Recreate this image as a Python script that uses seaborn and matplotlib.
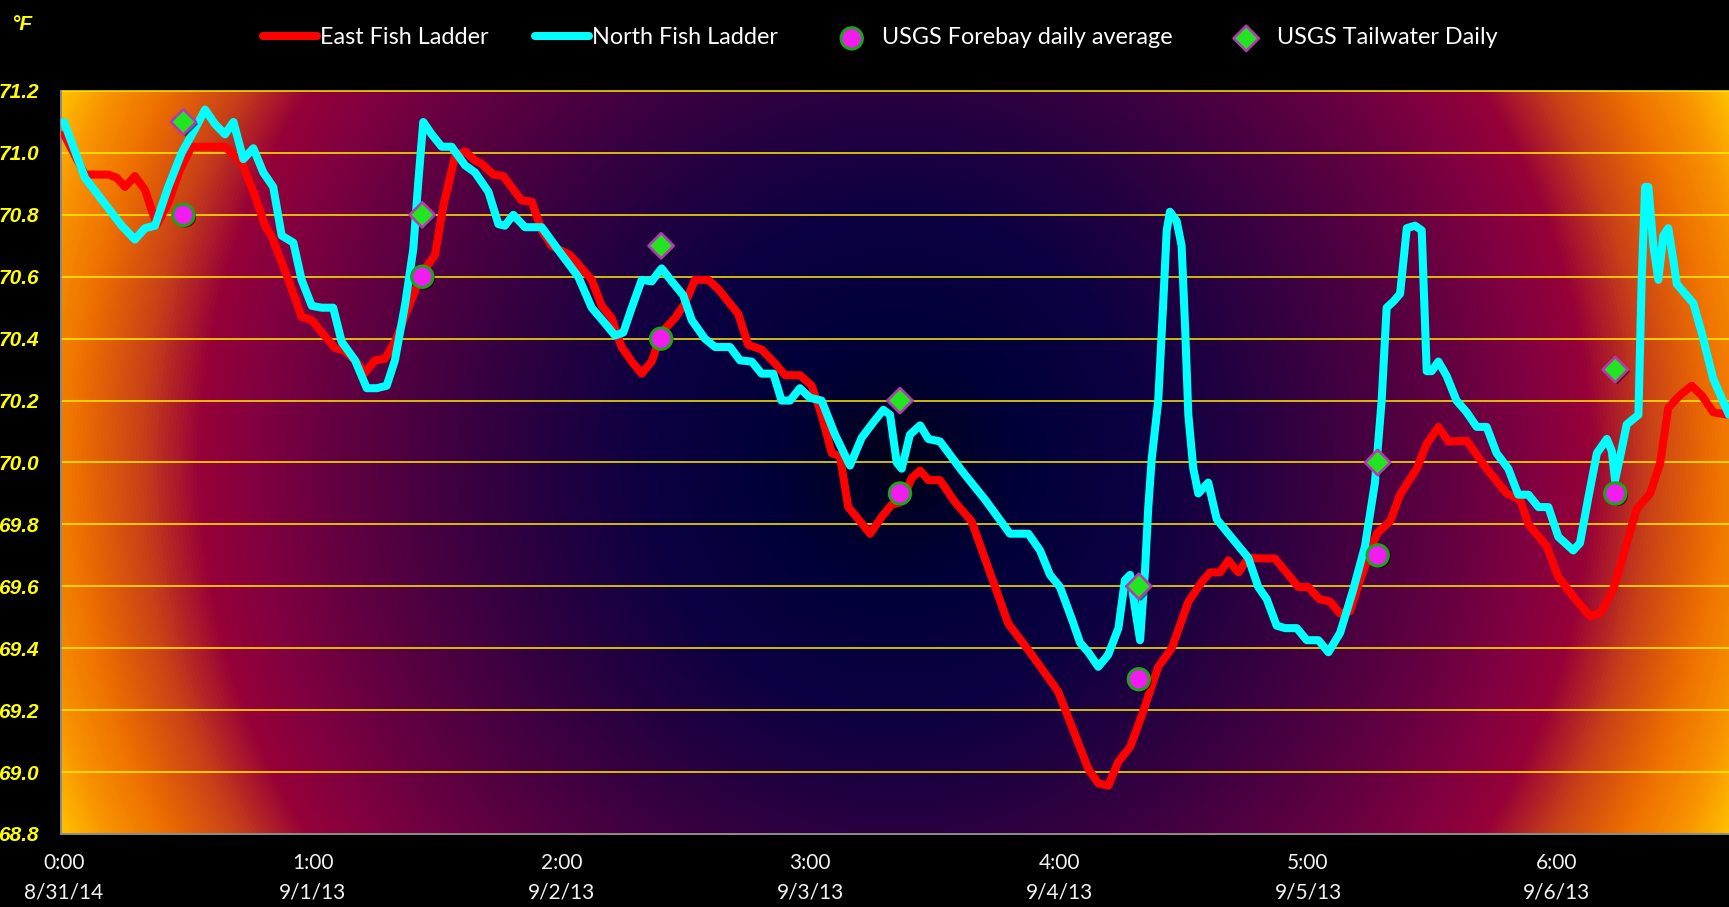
import numpy as np
import pandas as pd
import matplotlib
matplotlib.use("Agg")
import matplotlib.pyplot as plt
import seaborn as sns
from matplotlib.colors import LinearSegmentedColormap
from matplotlib import patheffects as pe

# ---------------- data (days since 8/31 0:00, temperature in °F) ----------------
east_day = [0.000, 0.084, 0.178, 0.212, 0.245, 0.285, 0.326, 0.359, 0.375, 0.420, 0.466, 0.513, 0.647, 0.714,
            0.768, 0.808, 0.835, 0.902, 0.955, 0.996, 1.036, 1.089, 1.129, 1.170, 1.210, 1.250, 1.290, 1.330,
            1.384, 1.438, 1.491, 1.525, 1.572, 1.612, 1.652, 1.679, 1.726, 1.766, 1.840, 1.880, 1.920, 1.960,
            2.034, 2.121, 2.161, 2.201, 2.241, 2.282, 2.322, 2.362, 2.402, 2.456, 2.496, 2.536, 2.590, 2.630,
            2.710, 2.750, 2.804, 2.858, 2.898, 2.958, 3.005, 3.045, 3.086, 3.119, 3.152, 3.193, 3.240, 3.287,
            3.327, 3.367, 3.407, 3.441, 3.474, 3.521, 3.581, 3.648, 3.715, 3.795, 3.876, 3.996, 4.064, 4.117,
            4.157, 4.197, 4.238, 4.285, 4.332, 4.398, 4.452, 4.519, 4.573, 4.606, 4.646, 4.680, 4.720, 4.760,
            4.814, 4.867, 4.921, 4.961, 5.001, 5.045, 5.088, 5.129, 5.169, 5.209, 5.276, 5.330, 5.370, 5.437,
            5.477, 5.524, 5.564, 5.638, 5.718, 5.798, 5.852, 5.886, 5.959, 6.006, 6.066, 6.133, 6.174, 6.227,
            6.267, 6.321, 6.375, 6.415, 6.448, 6.495, 6.542, 6.582, 6.629, 6.692]
east_temp = [71.06, 70.93, 70.93, 70.92, 70.89, 70.925, 70.88, 70.80, 70.77, 70.84, 70.945, 71.02, 71.02, 70.97,
             70.86, 70.765, 70.73, 70.59, 70.47, 70.46, 70.42, 70.37, 70.36, 70.33, 70.29, 70.33, 70.335, 70.39,
             70.50, 70.61, 70.67, 70.83, 70.99, 71.005, 70.975, 70.965, 70.93, 70.925, 70.846, 70.843, 70.75, 70.70,
             70.67, 70.59, 70.506, 70.467, 70.373, 70.326, 70.287, 70.326, 70.42, 70.467, 70.514, 70.59, 70.59, 70.56,
             70.48, 70.38, 70.365, 70.32, 70.282, 70.282, 70.248, 70.154, 70.03, 70.02, 69.856, 69.817, 69.77, 69.825,
             69.864, 69.872, 69.95, 69.974, 69.943, 69.943, 69.872, 69.81, 69.66, 69.48, 69.394, 69.26, 69.12, 69.01,
             68.964, 68.956, 69.034, 69.081, 69.183, 69.34, 69.40, 69.55, 69.614, 69.645, 69.645, 69.684, 69.645, 69.692,
             69.69, 69.69, 69.637, 69.598, 69.598, 69.559, 69.551, 69.512, 69.52, 69.62, 69.77, 69.81, 69.896, 69.98,
             70.06, 70.115, 70.068, 70.07, 69.98, 69.90, 69.88, 69.80, 69.73, 69.63, 69.567, 69.504, 69.512, 69.59,
             69.70, 69.85, 69.90, 69.997, 70.177, 70.217, 70.248, 70.217, 70.162, 70.154]

north_day = [0.000, 0.084, 0.165, 0.232, 0.285, 0.326, 0.366, 0.419, 0.473, 0.527, 0.567, 0.607, 0.647, 0.681,
             0.721, 0.761, 0.801, 0.841, 0.875, 0.922, 0.955, 0.996, 1.036, 1.082, 1.116, 1.170, 1.217, 1.257,
             1.297, 1.330, 1.371, 1.404, 1.424, 1.444, 1.478, 1.518, 1.558, 1.612, 1.652, 1.706, 1.746, 1.772,
             1.806, 1.853, 1.920, 1.987, 2.067, 2.121, 2.174, 2.215, 2.248, 2.282, 2.322, 2.362, 2.402, 2.443,
             2.489, 2.523, 2.576, 2.617, 2.677, 2.717, 2.764, 2.804, 2.851, 2.884, 2.918, 2.958, 2.998, 3.045,
             3.099, 3.159, 3.206, 3.253, 3.293, 3.320, 3.347, 3.367, 3.400, 3.441, 3.474, 3.521, 3.608, 3.702,
             3.802, 3.876, 3.923, 3.963, 4.003, 4.050, 4.084, 4.117, 4.157, 4.197, 4.238, 4.264, 4.285, 4.305,
             4.325, 4.345, 4.358, 4.372, 4.398, 4.418, 4.432, 4.445, 4.472, 4.492, 4.506, 4.519, 4.539, 4.559,
             4.599, 4.633, 4.680, 4.760, 4.800, 4.834, 4.874, 4.908, 4.955, 4.995, 5.042, 5.082, 5.129, 5.182,
             5.229, 5.269, 5.296, 5.316, 5.343, 5.370, 5.397, 5.430, 5.457, 5.477, 5.497, 5.524, 5.557, 5.597,
             5.638, 5.678, 5.718, 5.758, 5.805, 5.845, 5.886, 5.926, 5.966, 6.006, 6.066, 6.093, 6.127, 6.161,
             6.201, 6.221, 6.234, 6.261, 6.281, 6.328, 6.341, 6.355, 6.368, 6.388, 6.408, 6.428, 6.448, 6.468,
             6.482, 6.549, 6.582, 6.629, 6.692]
north_temp = [71.10, 70.92, 70.835, 70.765, 70.72, 70.757, 70.765, 70.89, 71.00, 71.078, 71.14, 71.093, 71.06, 71.10,
              70.98, 71.015, 70.937, 70.89, 70.733, 70.71, 70.59, 70.506, 70.50, 70.50, 70.39, 70.33, 70.24, 70.24,
              70.248, 70.33, 70.51, 70.69, 70.906, 71.10, 71.06, 71.02, 71.02, 70.96, 70.937, 70.874, 70.77, 70.765,
              70.80, 70.76, 70.76, 70.686, 70.60, 70.50, 70.45, 70.41, 70.42, 70.50, 70.59, 70.585, 70.627, 70.585,
              70.54, 70.46, 70.40, 70.373, 70.373, 70.33, 70.326, 70.287, 70.287, 70.20, 70.20, 70.24, 70.209, 70.20,
              70.09, 69.99, 70.08, 70.13, 70.17, 70.154, 70.00, 69.98, 70.09, 70.12, 70.076, 70.068, 69.974, 69.88,
              69.77, 69.77, 69.716, 69.637, 69.598, 69.496, 69.418, 69.387, 69.34, 69.379, 69.465, 69.62, 69.637, 69.528,
              69.426, 69.653, 69.856, 70.013, 70.20, 70.514, 70.749, 70.81, 70.78, 70.70, 70.436, 70.154, 69.98, 69.90,
              69.935, 69.817, 69.77, 69.692, 69.598, 69.559, 69.473, 69.465, 69.465, 69.426, 69.426, 69.387, 69.45, 69.59,
              69.73, 69.935, 70.20, 70.50, 70.52, 70.545, 70.757, 70.765, 70.75, 70.295, 70.295, 70.326, 70.28, 70.20,
              70.162, 70.115, 70.115, 70.03, 69.98, 69.896, 69.896, 69.856, 69.856, 69.76, 69.716, 69.74, 69.888, 70.03,
              70.076, 70.037, 69.943, 70.044, 70.123, 70.154, 70.59, 70.89, 70.89, 70.70, 70.59, 70.733, 70.757, 70.655,
              70.577, 70.514, 70.42, 70.27, 70.154]

daily_day = [0.48, 1.44, 2.40, 3.36, 4.32, 5.28, 6.235]
forebay_temp = [70.8, 70.6, 70.4, 69.9, 69.3, 69.7, 69.9]
tailwater_temp = [71.1, 70.8, 70.7, 70.2, 69.6, 70.0, 70.3]

x_ticks = [0, 1, 2, 3, 4, 5, 6]
x_tick_labels = ["0:00\n8/31/14", "1:00\n9/1/13", "2:00\n9/2/13", "3:00\n9/3/13",
                 "4:00\n9/4/13", "5:00\n9/5/13", "6:00\n9/6/13"]
y_ticks = [68.8, 69.0, 69.2, 69.4, 69.6, 69.8, 70.0, 70.2, 70.4, 70.6, 70.8, 71.0, 71.2]
y_tick_labels = ["68.8", "69.0", "69.2", "69.4", "69.6", "69.8", "70.0", "70.2", "70.4", "70.6", "70.8", "71.0", "71.2"]

series_names = ["East Fish Ladder", "North Fish Ladder", "USGS Forebay daily average", "USGS Tailwater Daily"]

# ---------------- style ----------------
sns.set_theme(style="dark", rc={
    "figure.facecolor": "black",
    "axes.facecolor": "black",
    "savefig.facecolor": "black",
})
plt.rcParams["font.family"] = ["Lato", "DejaVu Sans"]

W, H = 1729, 907
fig = plt.figure(figsize=(W / 100, H / 100), dpi=100)
ax_l, ax_r, ax_t, ax_b = 61, 1729, 91, 834
ax = fig.add_axes([ax_l / W, 1 - ax_b / H, (ax_r - ax_l) / W, (ax_b - ax_t) / H])

xmin, xmax = -0.012, 6.692
ymin, ymax = 68.8, 71.2

# radial background gradient
pw, ph = ax_r - ax_l, ax_b - ax_t
yy, xx = np.mgrid[0:ph, 0:pw]
dist = np.hypot(xx - pw / 2, yy - ph / 2)
dmax = np.hypot(pw / 2, ph / 2)
stops = [(0, "#00001a"), (120, "#000038"), (250, "#0c0042"), (365, "#280040"), (475, "#480040"),
         (575, "#680040"), (645, "#840040"), (695, "#960038"), (755, "#c84018"), (820, "#ee7000"),
         (870, "#f89200"), (dmax, "#ffc000")]
cmap = LinearSegmentedColormap.from_list("bg", [(s / dmax, c) for s, c in stops])
ax.imshow(dist / dmax, cmap=cmap, vmin=0, vmax=1, extent=(xmin, xmax, ymin, ymax),
          aspect="auto", origin="upper", zorder=0, interpolation="bilinear")

# lines
df_e = pd.DataFrame({"day": east_day, "temp": east_temp})
df_n = pd.DataFrame({"day": north_day, "temp": north_temp})
sns.lineplot(data=df_e, x="day", y="temp", ax=ax, color="#FF0000", lw=5.8, sort=False,
             estimator=None, label=series_names[0], solid_capstyle="round", solid_joinstyle="round", zorder=3)
sns.lineplot(data=df_n, x="day", y="temp", ax=ax, color="#00FFFF", lw=5.8, sort=False,
             estimator=None, label=series_names[1], solid_capstyle="round", solid_joinstyle="round", zorder=4)

shadow = [pe.SimplePatchShadow(offset=(1.5, -1.5), alpha=0.55, shadow_rgbFace="black"), pe.Normal()]
sns.scatterplot(x=daily_day, y=forebay_temp, ax=ax, marker="o", s=235, color="#F21CF0",
                edgecolor="#1FA21F", linewidth=2.2, label=series_names[2], zorder=6,
                path_effects=shadow)
sns.scatterplot(x=daily_day, y=tailwater_temp, ax=ax, marker="D", s=165, color="#22E522",
                edgecolor="#B03CB0", linewidth=1.9, label=series_names[3], zorder=6,
                path_effects=shadow)

ax.set_xlim(xmin, xmax)
ax.set_ylim(ymin, ymax)
ax.set_xlabel("")
ax.set_ylabel("")

ax.set_yticks(y_ticks)
ax.set_yticklabels(y_tick_labels, color="#FFFF00", fontweight="bold", fontstyle="italic", fontsize=15,
                   family=["Liberation Sans", "DejaVu Sans"])
ax.set_xticks(x_ticks)
ax.set_xticklabels(x_tick_labels, color="#F2F2F2", fontsize=15, linespacing=1.55)
ax.tick_params(axis="y", length=0, pad=16)
ax.tick_params(axis="x", length=0, pad=14)

ax.grid(False)
for yv in y_ticks:
    ax.axhline(yv, color="#FFEE00", lw=1.1, zorder=1, clip_on=False)

for side in ["top", "right"]:
    ax.spines[side].set_visible(False)
for side in ["left", "bottom"]:
    ax.spines[side].set_visible(True)
    ax.spines[side].set_color("#8a8a8a")
    ax.spines[side].set_linewidth(1.4)
    ax.spines[side].set_zorder(2)

handles, labels = ax.get_legend_handles_labels()
if ax.get_legend() is not None:
    ax.get_legend().remove()
fig.legend(handles, labels, loc="center", bbox_to_anchor=(880 / W, 1 - 38 / H), ncol=4,
           frameon=False, fontsize=16.8, labelcolor="white", handlelength=2.3,
           handletextpad=0.15, columnspacing=2.0, borderpad=0)

fig.text(22 / W, 1 - 25 / H, "°F", color="#FFFF00", fontweight="bold", fontstyle="italic",
         fontsize=15, ha="center", va="center", family=["Liberation Sans", "DejaVu Sans"])

fig.savefig("out.png", dpi=100, facecolor="black")
